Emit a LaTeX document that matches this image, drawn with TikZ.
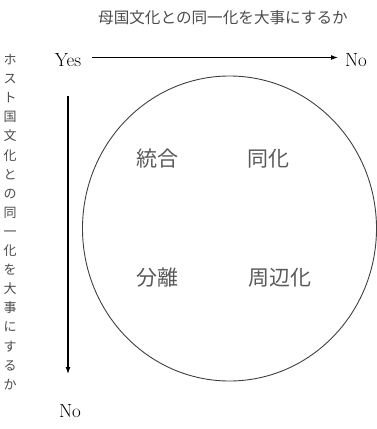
\documentclass[tikz,border=0pt]{standalone}
\usepackage{fontspec}
\newfontfamily\cjk{Noto Sans CJK JP}
\usetikzlibrary{arrows.meta}
\tikzset{
  lat/.style={inner sep=0pt, font=\fontsize{19}{19}\selectfont, text=black},
  quad/.style={inner sep=0pt, font=\cjk\fontsize{21}{21}\selectfont, text=black!65},
  axlabel/.style={inner sep=0pt, font=\cjk\fontsize{15.6}{15.6}\selectfont, text=black!70},
  arr/.style={line width=1.2pt, -{Latex[length=7pt,width=5pt]}},
  ring/.style={draw=black!75, line width=0.9pt}
}
\begin{document}
\begin{tikzpicture}[x=1pt,y=-1pt]
\useasboundingbox (0,0) rectangle (377,429);
\node[axlabel] (title) at (223,18) {母国文化との同一化を大事にするか};
\node[axlabel, align=center, font=\cjk\fontsize{13}{19.1}\selectfont] (vlabel) at (10,222)
  {ホ\\ス\\ト\\国\\文\\化\\と\\の\\同\\一\\化\\を\\大\\事\\に\\す\\る\\か};
\node[lat] (yes) at (68,60) {Yes};
\node[lat] (noR) at (356,60) {No};
\node[lat] (noB) at (70,411) {No};
\draw[ring] (229.5,228.5) ellipse [x radius=147, y radius=152.5];
\node[quad] (togo) at (157.5,159) {統合};
\node[quad] (doka) at (268.5,159) {同化};
\node[quad] (bunri) at (157.5,278) {分離};
\node[quad] (shuhen) at (280,278) {周辺化};
\coordinate (hs) at (92,57.5);
\coordinate (he) at (338,57.5);
\coordinate (vs) at (68,96);
\coordinate (ve) at (68,374);
\draw[arr] (hs) -- (he);
\draw[arr] (vs) -- (ve);
\end{tikzpicture}
\end{document}
